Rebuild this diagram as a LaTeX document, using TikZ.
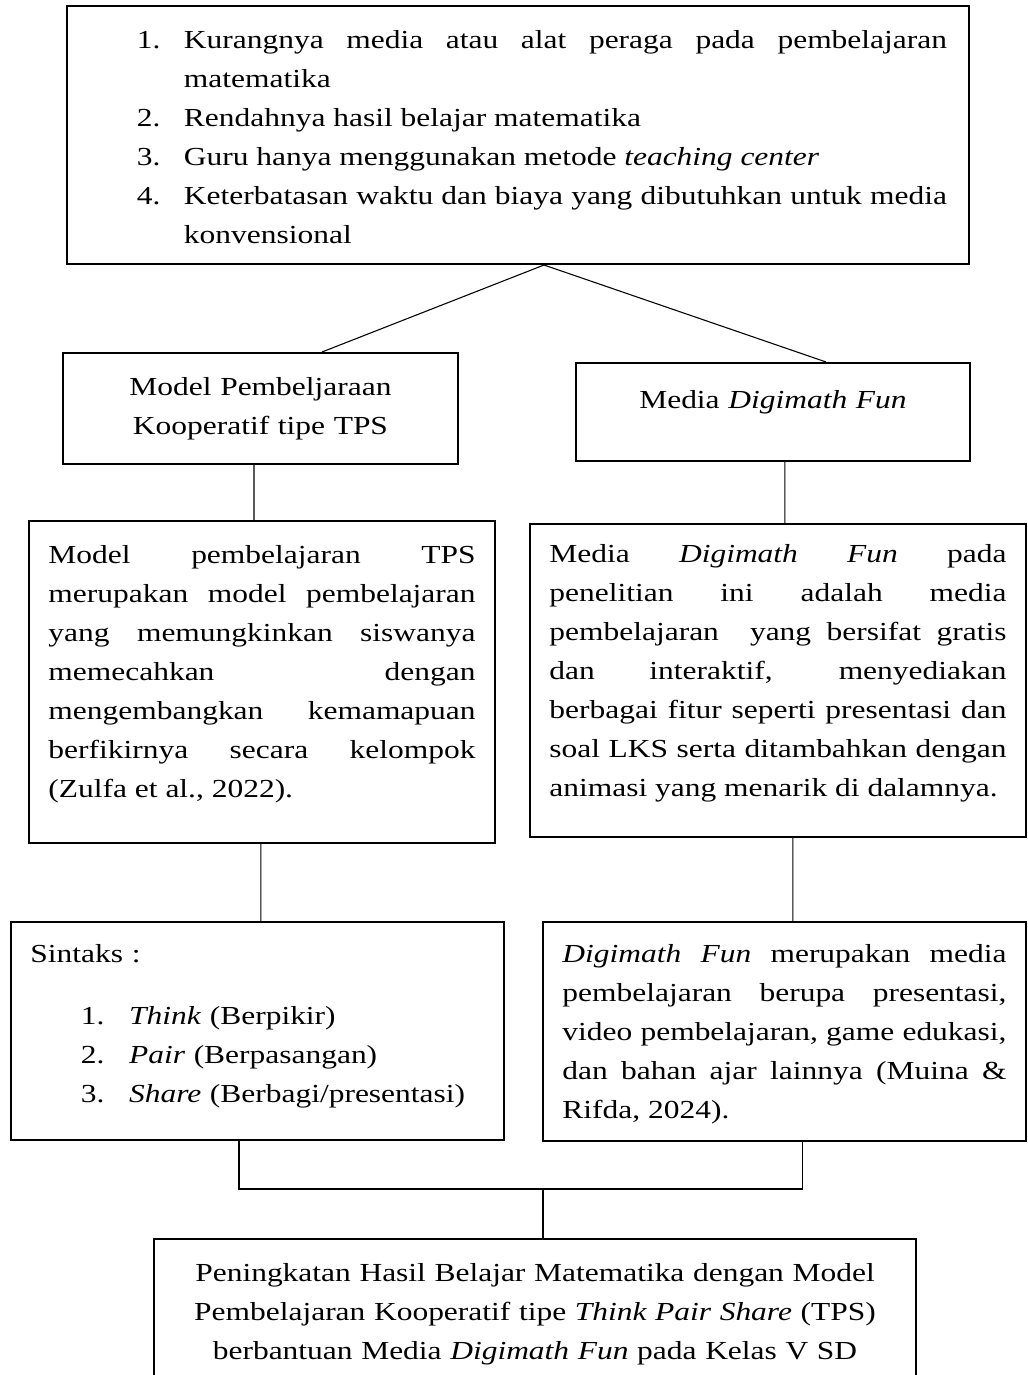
\documentclass[tikz,border=0pt]{standalone}
\usepackage{fontspec}
\setmainfont{Liberation Serif}[FakeStretch=1.21]
\setlength{\parindent}{0pt}
\hyphenpenalty=10000
\exhyphenpenalty=10000
\tolerance=10000
\hbadness=10000
\newcommand{\numitem}[2]{\hangindent=#1\hangafter=1\makebox[#1][l]{#2}}

\begin{document}
\begin{tikzpicture}[x=0.4615pt, y=-0.4615pt,
    box/.style={draw, line width=0.9pt, anchor=north west, inner ysep=0pt, inner xsep=9pt, font=\fontsize{12}{18}\selectfont},
    link/.style={line width=0.5pt}]
    \useasboundingbox (0,0) rectangle (1027,1375);
    \clip (0,0) rectangle (1027,1375);

    % masalah
    \node[box, inner xsep=0pt, text width=416.3pt, text height=19.4pt, text depth=99.7pt, align=justify] (prob) at (66,5) {\leftskip=32.3pt \rightskip=10.2pt
        \numitem{21.7pt}{1.}Kurangnya media atau alat peraga pada pembelajaran \linebreak matematika\par
        \numitem{21.7pt}{2.}Rendahnya hasil belajar matematika\par
        \numitem{21.7pt}{3.}Guru hanya menggunakan metode \textit{teaching center}\par
        \numitem{21.7pt}{4.}Keterbatasan waktu dan biaya yang dibutuhkan untuk media \linebreak konvensional\par};

    \node[box, inner xsep=0pt, text width=182.3pt, text height=19.4pt, text depth=31.8pt, align=center] (tps) at (62,352) {Model Pembeljaraan\\ Kooperatif tipe TPS};
    \node[box, inner xsep=0pt, text width=181.8pt, text height=21.2pt, text depth=24pt, align=center] (media) at (575,362) {Media \textit{Digimath Fun}};

    \node[box, text width=197.1pt, text height=19.8pt, text depth=128.8pt, align=justify] (tpsdesc) at (28,520) {Model pembelajaran TPS \linebreak merupakan model pembelajaran \linebreak yang memungkinkan siswanya \linebreak memecahkan dengan \linebreak mengembangkan kemamapuan \linebreak berfikirnya secara kelompok \linebreak (Zulfa et al., 2022).};
    \node[box, text width=210.9pt, text height=18pt, text depth=126.5pt, align=justify] (mediadesc) at (529,523) {Media \textit{Digimath Fun} pada \linebreak penelitian ini adalah media \linebreak pembelajaran\ \ yang bersifat gratis \linebreak dan interaktif, menyediakan \linebreak berbagai fitur seperti presentasi dan \linebreak soal LKS serta ditambahkan dengan \linebreak animasi yang menarik di dalamnya.};

    \node[box, text width=209.5pt, text height=18.9pt, text depth=81.7pt, align=left] (sintaks) at (10,921) {Sintaks :\par\vspace{10.2pt}\leftskip=23.3pt
        \numitem{22.2pt}{1.}\textit{Think} (Berpikir)\par
        \numitem{22.2pt}{2.}\textit{Pair} (Berpasangan)\par
        \numitem{22.2pt}{3.}\textit{Share} (Berbagi/presentasi)\par};
    \node[box, text width=204.9pt, text height=18.9pt, text depth=82.2pt, align=justify] (digidesc) at (542,921) {\textit{Digimath Fun} merupakan media \linebreak pembelajaran berupa presentasi, \linebreak video pembelajaran, game edukasi, \linebreak dan bahan ajar lainnya (Muina \& \linebreak Rifda, 2024).};

    % hasil
    \node[box, inner xsep=0pt, text width=351.7pt, text height=19.4pt, text depth=55.4pt, align=center] (final) at (153,1238) {Peningkatan Hasil Belajar Matematika dengan Model\\ Pembelajaran Kooperatif tipe \textit{Think Pair Share} (TPS)\\ berbantuan Media \textit{Digimath Fun} pada Kelas V SD};

    \draw[link] ([xshift=12pt]prob.south) -- ([xshift=28.4pt]tps.north);
    \draw[link] ([xshift=12pt]prob.south) -- ([xshift=24.5pt]media.north);
    \draw[link] ([xshift=-3pt]tps.south) -- ([xshift=-3.7pt]tpsdesc.north);
    \draw[link] ([xshift=5.5pt]media.south) -- ([xshift=3.2pt]mediadesc.north);
    \draw[link] ([xshift=-0.5pt]tpsdesc.south) -- ([xshift=1.6pt]sintaks.north);
    \draw[link] ([xshift=6.9pt]mediadesc.south) -- ([xshift=3.9pt]digidesc.north);

    \coordinate (merge) at (543,1189);
    \draw[link] ([xshift=-8.5pt]sintaks.south) |- (merge) -| ([xshift=8.5pt]digidesc.south);
    \draw[link] (merge) -- (merge |- final.north);
\end{tikzpicture}
\end{document}
